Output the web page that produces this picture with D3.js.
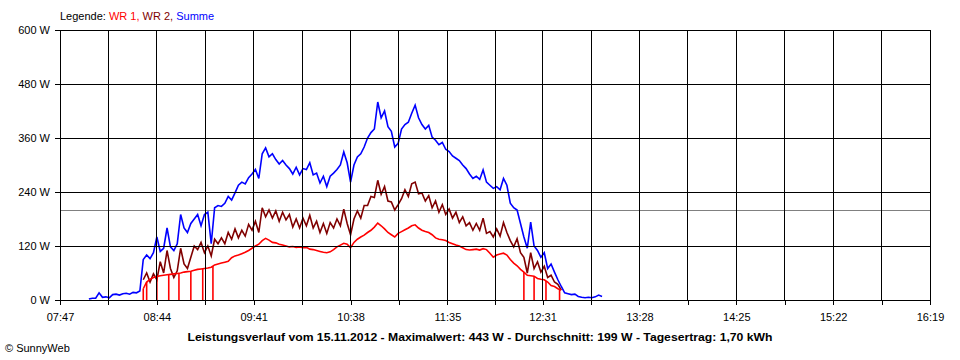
<!DOCTYPE html>
<html><head><meta charset="utf-8">
<script src="https://cdn.jsdelivr.net/npm/d3@7"></script>
<style>
body{margin:0;background:#fff}
svg{display:block}
text{font-family:"Liberation Sans",Arial,Helvetica,sans-serif;fill:#000}
</style>
</head><body>
<svg id="chart" width="960" height="360"></svg>
<script>
// ---- data ----
const times = [
"08:04","08:06","08:08","08:10","08:12","08:14","08:16","08:18","08:20","08:22",
"08:24","08:26","08:28","08:30","08:32","08:34","08:36","08:38","08:40","08:42",
"08:44","08:46","08:48","08:50","08:52","08:54","08:56","08:58","09:00","09:02",
"09:04","09:06","09:08","09:10","09:12","09:14","09:16","09:18","09:20","09:22",
"09:24","09:26","09:28","09:30","09:32","09:34","09:36","09:38","09:40","09:42",
"09:44","09:46","09:48","09:50","09:52","09:54","09:56","09:58","10:00","10:02",
"10:04","10:06","10:08","10:10","10:12","10:14","10:16","10:18","10:20","10:22",
"10:24","10:26","10:28","10:30","10:32","10:34","10:36","10:38","10:40","10:42",
"10:44","10:46","10:48","10:50","10:52","10:54","10:56","10:58","11:00","11:02",
"11:04","11:06","11:08","11:10","11:12","11:14","11:16","11:18","11:20","11:22",
"11:24","11:26","11:28","11:30","11:32","11:34","11:36","11:38","11:40","11:42",
"11:44","11:46","11:48","11:50","11:52","11:54","11:56","11:58","12:00","12:02",
"12:04","12:06","12:08","12:10","12:12","12:14","12:16","12:18","12:20","12:22",
"12:24","12:26","12:28","12:30","12:32","12:34","12:36","12:38","12:40","12:42",
"12:44","12:46","12:48","12:50","12:52","12:54","12:56","12:58","13:00","13:02",
"13:04","13:06"];

const summe = [
2,4,4,16,6,7,5,12,13,11,
14,15,13,17,16,20,90,100,92,105,
140,108,115,160,118,110,125,190,160,150,
170,180,190,165,190,195,125,205,210,208,
215,230,222,238,255,262,258,272,280,290,
270,325,338,318,325,312,302,310,300,292,
280,295,278,292,290,305,278,282,260,275,
252,275,282,290,300,329,305,262,300,318,
325,340,360,372,380,440,405,420,385,375,
340,348,380,390,395,415,433,405,390,380,
388,362,355,345,350,335,330,320,315,310,
300,292,280,270,275,268,289,262,255,248,
252,245,270,255,215,205,200,170,140,115,
173,120,110,95,105,70,80,62,45,30,
16,14,12,13,8,6,5,6,5,7,
11,8];

const wr1 = [
null,null,null,null,null,null,null,null,null,null,
null,null,null,null,null,null,25,40,46,50,
52,54,55,56,57,58,59,60,62,63,
64,66,68,69,70,71,73,78,80,82,
84,86,94,98,100,103,106,110,115,120,
124,132,137,133,128,127,124,122,120,118,
119,117,118,116,117,113,112,110,108,106,
105,107,112,118,122,126,124,116,128,135,
140,144,150,155,162,171,165,158,150,145,
140,148,152,156,160,165,167,160,155,152,
150,145,138,135,134,132,128,125,122,120,
116,112,111,112,113,111,114,112,104,95,
100,102,104,100,90,82,76,68,62,55,
54,53,48,46,45,40,32,30,25,22,
null,null,null,null,null,null,null,null,null,null,
null,null];

// moments where WR 1 briefly dropped to 0 W
const wr1Dropouts = ["08:36","08:38","08:44","08:51","08:57","09:04","09:11","09:17","12:20","12:26","12:33","12:41"];

const wr2 = [
null,null,null,null,null,null,null,null,null,null,
null,null,null,null,null,null,45,60,40,58,
45,85,60,110,70,50,65,115,80,70,
95,120,112,128,105,120,98,135,125,138,
125,150,135,158,138,155,142,168,155,175,
150,205,185,200,182,198,175,195,178,190,
162,180,160,182,165,188,160,175,150,170,
148,172,160,180,165,202,170,145,180,198,
182,210,210,230,228,266,235,252,220,218,
200,212,225,245,230,258,262,236,238,220,
232,205,220,195,212,190,202,182,195,172,
185,165,172,155,170,155,182,148,152,140,
158,142,172,150,132,118,136,105,95,60,
105,70,85,62,75,50,55,40,35,22,
null,null,null,null,null,null,null,null,null,null,
null,null];

const yTicks = [0,120,240,360,480,600];
const xLabels = ["07:47","08:44","09:41","10:38","11:35","12:31","13:28","14:25","15:22","16:19"];
const average = 199;
const legendItems = [
  {text:"Legende: ", color:"#000000"},
  {text:"WR 1, ", color:"#ff0000"},
  {text:"WR 2, ", color:"#800000"},
  {text:"Summe", color:"#0000ff"}
];
const title = "Leistungsverlauf vom 15.11.2012 - Maximalwert: 443 W - Durchschnitt: 199 W - Tagesertrag: 1,70 kWh";
const copyright = "\u00A9 SunnyWeb";

// ---- drawing ----
const toMin = s => { const p = s.split(":").map(Number); return p[0]*60 + p[1]; };
const M = {l:60, r:930, t:30, b:300};
const svg = d3.select("#chart");

const x = d3.scaleLinear()
  .domain([toMin(xLabels[0]), toMin(xLabels[xLabels.length-1])])
  .range([M.l, M.r]);
const y = d3.scaleLinear().domain([0, 600]).range([M.b, M.t]);

const gridVals = [];
xLabels.forEach((l, i) => {
  gridVals.push(toMin(l));
  if (i < xLabels.length - 1) gridVals.push((toMin(l) + toMin(xLabels[i+1])) / 2);
});

svg.append("defs").append("clipPath").attr("id","plotclip")
  .append("rect").attr("x",M.l).attr("y",M.t).attr("width",M.r-M.l).attr("height",M.b-M.t);

// average line
svg.append("line")
  .attr("x1",M.l).attr("x2",M.r)
  .attr("y1",Math.round(y(average))+0.5).attr("y2",Math.round(y(average))+0.5)
  .attr("stroke","#808080").attr("stroke-width",1.2);

const series = [
  {values: summe, color:"#0000ff"},
  {values: wr2, color:"#800000"},
  {values: wr1, color:"#ff0000", dropouts: wr1Dropouts}
];
const gData = svg.append("g").attr("clip-path","url(#plotclip)");
const tMins = times.map(toMin);
series.forEach(s => {
  const pts = tMins.map((t,i) => [t, s.values[i]]);
  const line = d3.line()
    .defined(d => d[1] !== null && d[1] !== undefined)
    .x(d => x(d[0])).y(d => y(d[1]));
  gData.append("path").datum(pts)
    .attr("d", line)
    .attr("fill","none")
    .attr("stroke", s.color)
    .attr("stroke-width", 1.6)
    .attr("stroke-linejoin","miter");
  if (s.dropouts) {
    const valued = pts.filter(d => d[1] !== null);
    const interp = t => {
      const xs = valued.map(d => d[0]);
      const j = Math.max(1, Math.min(valued.length - 1, d3.bisectLeft(xs, t)));
      const a = valued[j-1], b = valued[j];
      const f = (t - a[0]) / (b[0] - a[0]);
      return a[1] + (b[1] - a[1]) * Math.max(0, Math.min(1, f));
    };
    gData.selectAll(null).data(s.dropouts).enter().append("line")
      .attr("x1", d => x(toMin(d))).attr("x2", d => x(toMin(d)))
      .attr("y1", d => y(interp(toMin(d)))).attr("y2", y(0))
      .attr("stroke", s.color).attr("stroke-width", 1.6);
  }
});

// grid
const gGrid = svg.append("g").attr("shape-rendering","crispEdges");
gridVals.forEach(v => {
  gGrid.append("line")
    .attr("x1", x(v)).attr("x2", x(v))
    .attr("y1", M.t).attr("y2", M.b)
    .attr("stroke","#000").attr("stroke-width",1);
});
yTicks.forEach(v => {
  gGrid.append("line")
    .attr("x1", M.l).attr("x2", M.r)
    .attr("y1", y(v)).attr("y2", y(v))
    .attr("stroke","#000").attr("stroke-width",1);
});

// axes
const xAxis = d3.axisBottom(x)
  .tickValues(gridVals)
  .tickSize(5).tickPadding(8.5)
  .tickFormat((d,i) => i % 2 === 0 ? xLabels[i/2] : "");
const gx = svg.append("g").attr("transform",`translate(0,${M.b})`).call(xAxis);
gx.select(".domain").remove();
gx.selectAll(".tick line").attr("stroke","#000").attr("shape-rendering","crispEdges");
gx.selectAll("text").attr("font-size",11).attr("fill","#000")
  .attr("font-family",'"Liberation Sans",Arial,sans-serif');

const yAxis = d3.axisLeft(y)
  .tickValues(yTicks)
  .tickSize(5).tickPadding(5)
  .tickFormat(d => d + " W");
const gy = svg.append("g").attr("transform",`translate(${M.l},0)`).call(yAxis);
gy.select(".domain").remove();
gy.selectAll(".tick line").attr("stroke","#000").attr("shape-rendering","crispEdges");
gy.selectAll("text").attr("font-size",11).attr("fill","#000")
  .attr("font-family",'"Liberation Sans",Arial,sans-serif');

// legend
const leg = svg.append("text").attr("x",60).attr("y",20).attr("font-size",11).attr("style","white-space:pre");
legendItems.forEach(it => {
  leg.append("tspan").style("fill", it.color).text(it.text);
});

// title
svg.append("text")
  .attr("x",480).attr("y",341)
  .attr("text-anchor","middle")
  .attr("font-size",11).attr("font-weight","bold")
  .attr("textLength",585).attr("lengthAdjust","spacingAndGlyphs")
  .text(title);

// copyright
svg.append("text").attr("x",5).attr("y",352).attr("font-size",11).text(copyright);
</script>
</body></html>
